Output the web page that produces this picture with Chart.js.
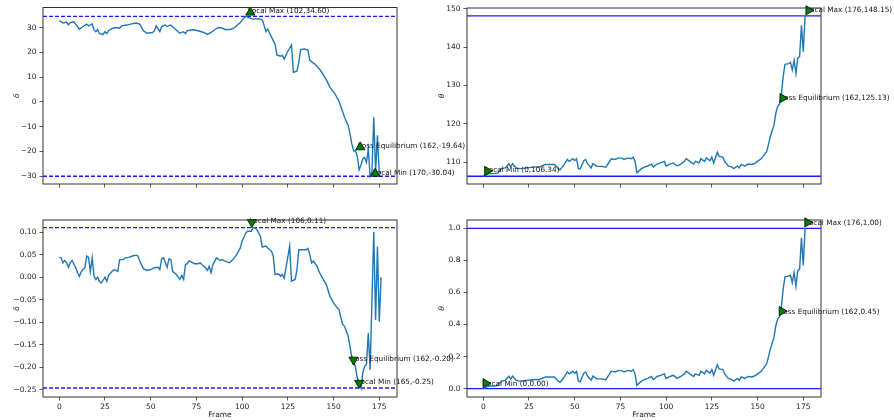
<!DOCTYPE html>
<html>
<head>
<meta charset="utf-8">
<script src="https://cdn.jsdelivr.net/npm/chart.js@4.4.0/dist/chart.umd.min.js"></script>
<style>
  body { margin: 0; background: #fff; }
  #wrap { position: relative; width: 894px; height: 420px; overflow: hidden; }
  canvas { position: absolute; }
</style>
</head>
<body>
<div id="wrap">
  <canvas id="chart-tl" width="470" height="200" style="left:0;top:0"></canvas>
  <canvas id="chart-tr" width="464" height="200" style="left:430px;top:0"></canvas>
  <canvas id="chart-bl" width="470" height="220" style="left:0;top:200px"></canvas>
  <canvas id="chart-br" width="464" height="220" style="left:430px;top:200px"></canvas>
</div>
<script>
// x ticks shared by all four panels
const frameTicks = [0, 25, 50, 75, 100, 125, 150, 175];

// top left: delta
const deltaTopFrames = [0,1,2,4,5,6,8,9,11,13,
  15,16,18,19,20,21,22,24,25,26,
  27,29,31,33,34,37,39,42,44,46,
  48,51,52,53,55,56,58,59,61,63,
  65,66,68,69,70,73,76,79,81,83,
  85,87,89,91,94,96,99,101,102,104,
  106,109,111,112,113,114,116,118,119,121,
  122,123,125,127,128,130,131,132,134,136,
  137,139,140,141,143,146,148,151,153,155,
  156,158,159,160,161,162,163,164,165,166,
  167,168,169,170,171,172,173,174,175,176];
const deltaTopValues = [32.8,32.5,31.9,32.3,31.2,32.1,32.4,31.5,29.4,30.5,
  31.5,30.8,31.5,29.2,28.4,29.2,27.6,27.3,28.4,27.6,
  28.8,29.7,30.1,29.8,30.8,31.1,31.5,31.9,31.5,28.8,
  27.8,28.1,28.8,30.8,28.4,30.5,31.1,30.5,31.1,29.7,
  28.4,27.8,28.4,27.6,28.8,29.2,28.8,28.1,27.3,28.1,
  29.2,30.1,29.9,29.2,29.4,30.1,32.1,34.0,34.6,34.0,
  33.5,33.7,33.2,31.0,28.5,29.5,26.3,23.4,19.0,18.5,
  18.8,17.3,20.5,23.0,12.0,12.4,16.0,21.2,21.4,21.0,
  16.8,15.7,15.2,14.3,12.6,9.0,6.0,3.0,0.2,-4.0,
  -6.2,-9.5,-13.0,-17.0,-19.8,-19.64,-22.0,-27.5,-25.5,-23.0,
  -22.5,-24.5,-19.0,-30.04,-28.5,-6.2,-28.4,-13.5,-28.9,-28.0];
const deltaTopTicks = [-30, -20, -10, 0, 10, 20, 30];
const deltaTopLines = [34.60, -30.04];
const deltaTopMarkX = [104.5, 164.6, 172.8];
const deltaTopMarkY = [36.2, -18.3, -29.0];
const deltaTopNotes = ['Local Max (102,34.60)', 'Loss Equilibrium (162,-19.64)', 'Local Min (170,-30.04)'];

// right panels share the same frames
const thetaFrames = [0,3,6,8,10,12,14,15,16,18,
  20,24,27,31,34,39,41,42,44,46,
  47,49,50,51,52,53,55,56,57,59,
  60,62,65,67,69,70,72,74,76,77,
  79,81,82,83,84,86,88,90,92,93,
  95,97,99,100,102,104,106,108,110,111,
  113,115,116,118,119,121,122,124,125,126,
  128,129,131,132,134,136,137,139,140,141,
  143,145,147,149,150,152,153,155,156,157,
  159,160,161,162,163,164,165,167,168,169,
  170,171,172,173,174,175,176];

// top right: theta
const thetaTopValues = [106.34,107.0,107.0,107.2,108.3,108.5,109.6,108.8,109.6,108.5,
  108.3,108.5,108.7,108.8,109.4,109.4,108.3,108.0,109.2,110.7,
  110.2,110.9,110.4,110.9,108.3,108.2,110.4,110.7,109.6,108.5,
  109.6,108.9,108.9,108.7,110.1,110.9,110.7,111.1,111.0,110.7,
  111.1,110.9,111.3,110.2,107.2,108.1,108.7,109.0,109.5,108.7,
  109.5,109.8,110.2,109.0,109.5,109.8,109.0,109.5,110.2,110.9,
  110.2,109.5,110.2,109.8,110.9,110.2,111.1,110.4,111.3,109.8,
  112.6,111.5,111.3,110.2,109.0,108.7,108.3,109.0,108.5,109.4,
  109.0,109.5,109.4,109.8,110.2,110.9,111.5,112.8,114.7,116.7,
  119.7,122.8,124.5,125.13,127.5,132.3,135.5,135.7,136.0,134.0,
  136.6,133.1,137.2,137.5,145.7,138.8,148.15];
const thetaTopTicks = [110, 120, 130, 140, 150];
const thetaTopLines = [148.15, 106.34];
const thetaTopMarkX = [2.2, 163.7, 177.9];
const thetaTopMarkY = [107.7, 126.7, 149.6];
const thetaTopNotes = ['Local Min (0,106.34)', 'Loss Equilibrium (162,125.13)', 'Local Max (176,148.15)'];

// bottom left: delta
const deltaBotFrames = [0,1,2,3,4,5,6,7,9,10,
  11,12,13,14,15,16,17,18,19,20,
  21,22,23,25,26,27,29,30,32,33,
  35,36,38,40,42,43,44,46,48,50,
  52,54,55,56,57,59,60,61,62,64,
  66,67,68,69,70,71,72,74,76,77,
  78,80,81,82,83,84,86,88,89,90,
  93,95,97,99,100,102,103,105,106,107,
  108,110,111,113,114,116,117,118,120,121,
  122,123,124,126,127,129,130,131,133,135,
  136,137,138,139,141,142,144,146,148,150,
  152,153,154,155,156,158,159,160,161,162,
  163,164,165,166,167,168,169,170,172,173,
  174,175,176];
const deltaBotValues = [0.044,0.043,0.032,0.037,0.032,0.022,0.032,0.037,0.021,0.010,
  0.002,0.012,0.017,0.021,0.047,0.044,0.013,0.043,0.002,-0.005,
  0.000,-0.010,-0.013,0.000,-0.009,0.004,0.013,0.017,0.013,0.039,
  0.039,0.043,0.044,0.047,0.049,0.047,0.036,0.019,0.015,0.017,
  0.021,0.022,0.017,0.041,0.043,0.022,0.041,0.039,0.013,0.006,
  -0.005,0.004,-0.005,0.028,0.030,0.036,0.034,0.030,0.030,0.032,
  0.028,0.021,0.015,0.024,0.010,0.028,0.043,0.037,0.039,0.037,
  0.032,0.039,0.050,0.065,0.080,0.098,0.102,0.102,0.110,0.110,
  0.106,0.091,0.067,0.069,0.065,0.058,0.047,0.006,0.007,0.002,
  0.006,-0.002,0.021,0.069,-0.009,-0.005,0.017,0.061,0.061,0.061,
  0.064,0.050,0.032,0.036,0.024,0.013,-0.002,-0.016,-0.042,-0.057,
  -0.068,-0.072,-0.090,-0.105,-0.109,-0.131,-0.153,-0.179,-0.187,-0.200,
  -0.224,-0.235,-0.246,-0.212,-0.198,-0.194,-0.124,-0.206,0.101,-0.095,
  0.068,-0.099,0.000];
const deltaBotTicks = [-0.25, -0.2, -0.15, -0.1, -0.05, 0, 0.05, 0.1];
const deltaBotLines = [0.110, -0.246];
const deltaBotMarkX = [105.3, 160.9, 164.0];
const deltaBotMarkY = [0.122, -0.1835, -0.235];
const deltaBotNotes = ['Local Max (106,0.11)', 'Loss Equilibrium (162,-0.20)', 'Local Min (165,-0.25)'];

// bottom right: theta normalised
const thetaBotValues = [0.0,0.016,0.016,0.020,0.047,0.052,0.078,0.059,0.078,0.052,
  0.047,0.052,0.056,0.059,0.073,0.073,0.047,0.040,0.068,0.104,
  0.092,0.109,0.097,0.109,0.047,0.044,0.097,0.104,0.078,0.052,
  0.078,0.061,0.061,0.056,0.090,0.109,0.104,0.114,0.111,0.104,
  0.114,0.109,0.119,0.092,0.021,0.042,0.056,0.064,0.076,0.056,
  0.076,0.083,0.092,0.064,0.076,0.083,0.064,0.076,0.092,0.109,
  0.092,0.076,0.092,0.083,0.109,0.092,0.114,0.097,0.119,0.083,
  0.150,0.123,0.119,0.092,0.064,0.056,0.047,0.064,0.052,0.073,
  0.064,0.076,0.073,0.083,0.092,0.109,0.123,0.155,0.200,0.248,
  0.320,0.394,0.434,0.449,0.506,0.621,0.697,0.702,0.709,0.662,
  0.724,0.640,0.738,0.745,0.941,0.769,1.0];
const thetaBotTicks = [0, 0.2, 0.4, 0.6, 0.8, 1.0];
const thetaBotLines = [1.0, 0.0];
const thetaBotMarkX = [1.3, 163.3, 177.3];
const thetaBotMarkY = [0.034, 0.484, 1.037];
const thetaBotNotes = ['Local Min (0,0.00)', 'Loss Equilibrium (162,0.45)', 'Local Max (176,1.00)'];

const noteSize = 7.3;
Chart.defaults.font.family = '"DejaVu Sans", sans-serif';
Chart.defaults.font.size = 7.5;
Chart.defaults.color = '#222';

function fmtTick(v, digits) {
    const s = Math.abs(v).toFixed(digits);
    return (v < -1e-9 ? '\u2212' : '') + s;
}

function renderPanel(id, p) {
    const el = document.getElementById(id);
    if (!el) return;

    const extras = {
        id: 'extras',
        beforeDatasetsDraw(chart) {
            const { ctx, chartArea: a, scales: { y } } = chart;
            ctx.save();
            ctx.strokeStyle = '#1a1aff';
            ctx.lineWidth = 1.4;
            ctx.setLineDash(p.dashed ? [4, 2] : []);
            p.lines.forEach(v => {
                const py = y.getPixelForValue(v);
                ctx.beginPath();
                ctx.moveTo(a.left, py);
                ctx.lineTo(a.right, py);
                ctx.stroke();
            });
            ctx.restore();
        },
        beforeDatasetDraw(chart, args) {
            // notes go under the markers (dataset 0 is drawn last)
            if (args.index !== 0) return;
            const { ctx, scales: { x, y } } = chart;
            ctx.save();
            ctx.font = `${noteSize}px "DejaVu Sans"`;
            ctx.fillStyle = '#111';
            ctx.textBaseline = 'middle';
            p.notes.forEach((t, i) => {
                ctx.fillText(t, x.getPixelForValue(p.markX[i]) - 2.5,
                    y.getPixelForValue(p.markY[i]) + p.noteDy);
            });
            ctx.restore();
        },
        afterDraw(chart) {
            const { ctx, chartArea: a } = chart;
            ctx.save();
            ctx.strokeStyle = '#333';
            ctx.lineWidth = 1;
            ctx.strokeRect(a.left, a.top, a.right - a.left, a.bottom - a.top);
            ctx.restore();
        }
    };

    new Chart(el, {
        type: 'line',
        data: {
            datasets: [{
                data: p.markX.map((f, i) => ({ x: f, y: p.markY[i] })),
                showLine: false,
                pointStyle: 'triangle',
                rotation: p.rotation,
                pointRadius: 5.3,
                pointBackgroundColor: '#008000',
                pointBorderColor: '#000',
                pointBorderWidth: 0.8,
                clip: false
            }, {
                data: p.frames.map((f, i) => ({ x: f, y: p.values[i] })),
                borderColor: '#1f77b4',
                borderWidth: 1.4,
                pointRadius: 0,
                fill: false,
                tension: 0
            }]
        },
        options: {
            responsive: false,
            animation: false,
            events: [],
            layout: { autoPadding: false, padding: p.padding },
            plugins: { legend: { display: false }, tooltip: { enabled: false } },
            scales: {
                x: {
                    type: 'linear', min: -8.9, max: 184.7,
                    afterBuildTicks: s => { s.ticks = frameTicks.map(v => ({ value: v })); },
                    afterFit: s => { s.height = p.xHeight; },
                    grid: { drawOnChartArea: false, drawTicks: true, tickLength: 3.5, color: '#333', lineWidth: 0.8 },
                    border: { display: false },
                    ticks: { display: p.showX, padding: 2, maxRotation: 0, autoSkip: false, callback: v => fmtTick(v, 0) },
                    title: { display: p.showX, text: 'Frame', padding: { top: 0, bottom: 0 } }
                },
                y: {
                    type: 'linear', min: p.yMin, max: p.yMax,
                    afterBuildTicks: s => { s.ticks = p.ticks.map(v => ({ value: v })); },
                    afterFit: s => { s.width = p.yWidth; },
                    grid: { drawOnChartArea: false, drawTicks: true, tickLength: 3.5, color: '#333', lineWidth: 0.8 },
                    border: { display: false },
                    ticks: { padding: 3, autoSkip: false, callback: v => fmtTick(v, p.digits) },
                    title: { display: true, text: p.yLabel, font: { style: 'italic', size: 7.5 }, padding: { top: 4, bottom: 0 } }
                }
            }
        },
        plugins: [extras]
    });
}

renderPanel('chart-tl', {
    frames: deltaTopFrames, values: deltaTopValues, ticks: deltaTopTicks, digits: 0,
    lines: deltaTopLines, dashed: true, markX: deltaTopMarkX, markY: deltaTopMarkY,
    notes: deltaTopNotes, rotation: 0, noteDy: -1, yLabel: '\u03b4',
    yMin: -33.2, yMax: 38.2, showX: false,
    padding: { left: 9, top: 7, right: 73, bottom: 0 }, yWidth: 34, xHeight: 16
});
renderPanel('chart-tr', {
    frames: thetaFrames, values: thetaTopValues, ticks: thetaTopTicks, digits: 0,
    lines: thetaTopLines, dashed: false, markX: thetaTopMarkX, markY: thetaTopMarkY,
    notes: thetaTopNotes, rotation: 90, noteDy: -0.5, yLabel: '\u03b8',
    yMin: 104.3, yMax: 150.2, showX: false,
    padding: { left: 4, top: 8, right: 73, bottom: 0 }, yWidth: 33, xHeight: 16
});
renderPanel('chart-bl', {
    frames: deltaBotFrames, values: deltaBotValues, ticks: deltaBotTicks, digits: 2,
    lines: deltaBotLines, dashed: true, markX: deltaBotMarkX, markY: deltaBotMarkY,
    notes: deltaBotNotes, rotation: 180, noteDy: -1, yLabel: '\u03b4',
    yMin: -0.266, yMax: 0.127, showX: true,
    padding: { left: 9, top: 20, right: 73, bottom: 0 }, yWidth: 34, xHeight: 23
});
renderPanel('chart-br', {
    frames: thetaFrames, values: thetaBotValues, ticks: thetaBotTicks, digits: 1,
    lines: thetaBotLines, dashed: false, markX: thetaBotMarkX, markY: thetaBotMarkY,
    notes: thetaBotNotes, rotation: 90, noteDy: 1, yLabel: '\u03b8',
    yMin: -0.052, yMax: 1.052, showX: true,
    padding: { left: 4, top: 20, right: 73, bottom: 0 }, yWidth: 33, xHeight: 23
});
</script>
</body>
</html>
